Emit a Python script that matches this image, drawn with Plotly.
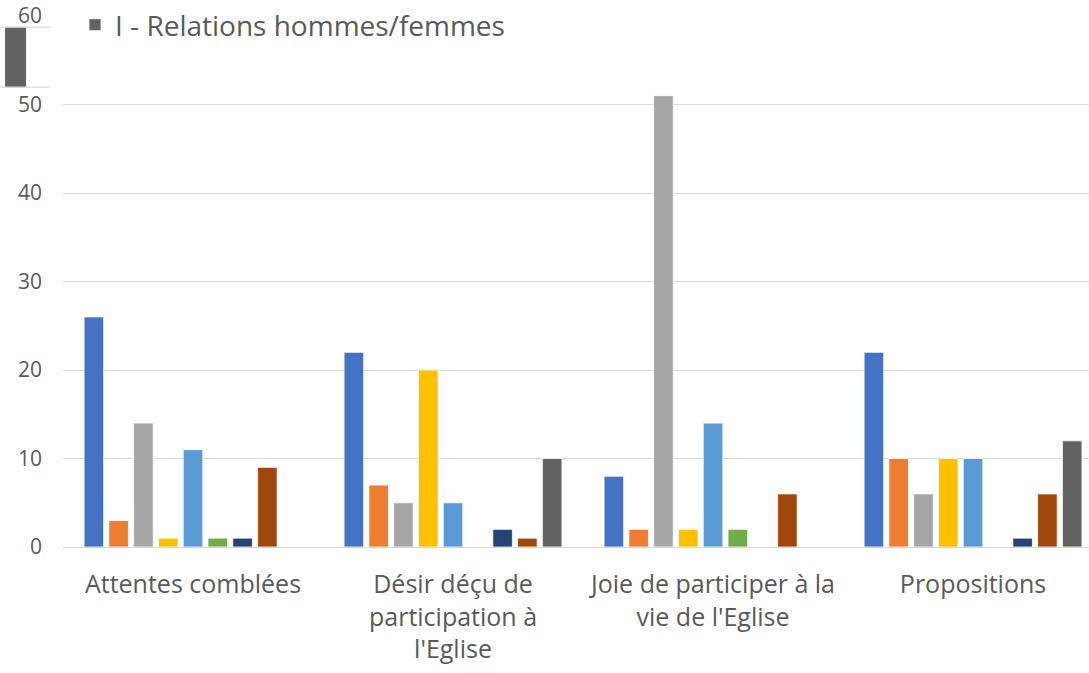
import plotly.graph_objects as go

categories = [
    "Attentes comblées",
    "Désir déçu de<br>participation à<br>l'Eglise",
    "Joie de participer à la<br>vie de l'Eglise",
    "Propositions",
]

series_names = [
    "A", "B", "C", "D", "E", "F", "G", "H",
    "I - Relations hommes/femmes",
]

s1 = [26, 22, 8, 22]
s2 = [3, 7, 2, 10]
s3 = [14, 5, 51, 6]
s4 = [1, 20, 2, 10]
s5 = [11, 5, 14, 10]
s6 = [1, 0, 2, 0]
s7 = [1, 2, 0, 1]
s8 = [9, 1, 6, 6]
s9 = [0, 10, 0, 12]

series_values = [s1, s2, s3, s4, s5, s6, s7, s8, s9]

colors = ["#4472C4", "#ED7D31", "#A5A5A5", "#FFC000", "#5B9BD5",
          "#70AD47", "#264478", "#9E480E", "#636363"]

y_ticks = [0, 10, 20, 30, 40, 50, 60]

FONT = "Open Sans"
TXT = "#595959"

fig = go.Figure()
for name, vals, col in zip(series_names, series_values, colors):
    fig.add_trace(go.Bar(
        x=categories, y=vals, name=name,
        marker=dict(color=col, line=dict(color="white", width=0.8)),
        showlegend=(name.startswith("I -")),
    ))

fig.update_layout(
    width=1089, height=673,
    margin=dict(l=63, r=0, t=16, b=126, autoexpand=False),
    paper_bgcolor="white", plot_bgcolor="white",
    barmode="group", bargap=0.142, bargroupgap=0.21,
    font=dict(family=FONT, color=TXT),
    legend=dict(
        x=0.0117, xanchor="left", y=1.0301, yanchor="top",
        bgcolor="rgba(0,0,0,0)", font=dict(size=28, color=TXT, family=FONT),
    ),
    xaxis=dict(
        type="category", range=[-0.5, 3.446],
        showgrid=False, showline=False, zeroline=False, ticks="",
        ticklabelstandoff=20,
        tickfont=dict(size=25, color=TXT, family=FONT),
    ),
    yaxis=dict(
        range=[0, 60], tickvals=y_ticks,
        showgrid=True, gridcolor="#D9D9D9", gridwidth=1.3,
        zeroline=True, zerolinecolor="#D9D9D9", zerolinewidth=1.3,
        showline=False, ticks="", ticklabelstandoff=20,
        tickfont=dict(size=21, color=TXT, family=FONT),
    ),
    shapes=[
        dict(type="rect", xref="paper", yref="paper",
             x0=-0.0565, x1=-0.036, y0=0.866, y1=0.979,
             fillcolor="#636363", line=dict(width=0), layer="above"),
        dict(type="line", xref="paper", yref="paper",
             x0=-0.0614, x1=-0.0127, y0=0.979, y1=0.979,
             line=dict(color="#D9D9D9", width=1.3)),
        dict(type="line", xref="paper", yref="paper",
             x0=-0.0614, x1=-0.0127, y0=0.866, y1=0.866,
             line=dict(color="#D9D9D9", width=1.3)),
    ],
)

fig.write_html(
    "out.html",
    config={"displayModeBar": False},
    post_script="document.body.style.margin='0';",
)
